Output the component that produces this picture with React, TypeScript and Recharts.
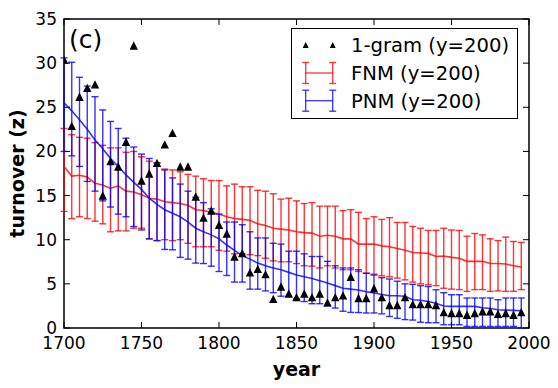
import React from 'react';
import {
  ComposedChart, Line, Scatter, ErrorBar, XAxis, YAxis, Legend, Label, ReferenceArea,
} from 'recharts';

const YEARS = [
  1700, 1705, 1710, 1715, 1720, 1725, 1730, 1735, 1740, 1745,
  1750, 1755, 1760, 1765, 1770, 1775, 1780, 1785, 1790, 1795,
  1800, 1805, 1810, 1815, 1820, 1825, 1830, 1835, 1840, 1845,
  1850, 1855, 1860, 1865, 1870, 1875, 1880, 1885, 1890, 1895,
  1900, 1905, 1910, 1915, 1920, 1925, 1930, 1935, 1940, 1945,
  1950, 1955, 1960, 1965, 1970, 1975, 1980, 1985, 1990, 1995,
];

// 1-gram (y=200) turnover
const GRAM = [
  30.4, 22.9, 26.2, 27.2, 27.6, 15.0, 18.9, 18.3, 21.1, 32.0,
  16.7, 17.5, 18.7, 20.8, 22.1, 18.3, 18.3, 14.9, 12.5, 13.3,
  11.7, 10.7, 8.1, 8.5, 6.3, 6.7, 6.1, 3.3, 4.7, 3.9,
  3.5, 3.9, 3.5, 3.9, 2.9, 3.5, 3.7, 5.8, 3.4, 3.4,
  4.5, 3.5, 2.6, 2.6, 3.5, 2.7, 2.7, 2.7, 2.6, 1.8,
  1.7, 1.7, 1.5, 1.7, 1.9, 1.9, 1.6, 1.7, 1.5, 1.8,
];

// FNM (y=200): mean and error bar ends
const FNM_MEAN = [
  18.3, 17.2, 17.3, 17.1, 16.4, 16.2, 15.8, 16.1, 15.5, 15.4,
  15.1, 14.7, 14.6, 14.3, 14.2, 14.1, 13.9, 13.4, 13.3, 13.1,
  12.9, 12.6, 12.4, 12.3, 12.2, 11.8, 11.6, 11.3, 11.2, 11.1,
  10.9, 10.8, 10.75, 10.4, 10.5, 10.4, 10.1, 10.1, 9.5, 9.5,
  9.5, 9.3, 9.2, 9.0, 8.8, 8.55, 8.5, 8.45, 8.1, 8.15,
  8.0, 7.9, 7.55, 7.55, 7.55, 7.3, 7.3, 7.25, 7.05, 6.9,
];
const FNM_HIGH = [
  22.6, 21.9, 21.6, 21.5, 21.0, 20.7, 20.4, 20.4, 19.9, 20.0,
  19.4, 18.9, 18.7, 18.0, 17.9, 17.7, 17.4, 17.2, 16.9, 16.7,
  16.7, 16.1, 16.3, 16.0, 16.0, 15.6, 15.5, 15.2, 14.6, 14.7,
  14.4, 14.1, 14.2, 13.8, 13.8, 13.8, 13.3, 13.4, 13.1, 12.4,
  12.6, 12.3, 12.5, 11.95, 11.95, 11.5, 11.3, 11.05, 11.05, 11.3,
  11.1, 11.05, 10.4, 10.7, 10.55, 10.1, 9.9, 10.3, 9.8, 9.7,
];
const FNM_LOW = [
  13.2, 12.4, 12.6, 12.4, 12.1, 11.8, 10.9, 11.0, 11.0, 11.3,
  11.3, 10.1, 9.9, 10.0, 9.9, 10.0, 9.6, 9.2, 9.2, 9.2,
  8.8, 8.7, 8.4, 8.4, 8.3, 8.2, 7.9, 7.6, 7.5, 7.5,
  7.3, 7.05, 7.0, 6.8, 7.05, 6.8, 6.6, 6.6, 6.4, 6.2,
  6.1, 5.9, 5.8, 5.65, 5.45, 5.2, 5.0, 4.9, 4.8, 4.5,
  4.4, 4.35, 4.15, 4.35, 4.35, 4.15, 4.2, 4.15, 4.15, 4.35,
];

// PNM (y=200): mean and error bar ends
const PNM_MEAN = [
  25.5, 24.6, 23.6, 22.5, 21.3, 20.3, 19.2, 18.3, 17.35, 16.5,
  15.7, 14.7, 14.0, 13.4, 13.0, 12.6, 12.0, 11.3, 10.9, 10.55,
  10.1, 9.4, 8.8, 8.2, 7.8, 7.35, 7.05, 6.8, 6.6, 6.3,
  6.0, 5.8, 5.6, 5.35, 5.1, 4.8, 4.5, 4.4, 4.3, 4.1,
  3.96, 3.8, 3.65, 3.65, 3.6, 3.2, 3.15, 3.0, 2.8, 2.5,
  2.45, 2.45, 2.45, 2.45, 2.3, 2.2, 2.07, 2.03, 2.0, 1.95,
];
const PNM_HIGH = [
  30.6, 30.1, 28.4, 27.4, 26.2, 24.7, 23.4, 22.6, 21.5, 20.5,
  19.7, 19.2, 18.7, 17.9, 17.0, 16.3, 15.5, 14.8, 14.2, 13.5,
  12.9, 12.0, 12.0, 11.7, 10.9, 10.2, 10.2, 9.6, 9.5, 8.7,
  8.7, 8.4, 8.1, 8.1, 7.55, 7.05, 6.8, 6.8, 6.6, 6.2,
  6.0, 5.7, 5.55, 5.3, 5.0, 4.95, 4.8, 4.7, 4.33, 4.0,
  3.77, 3.77, 3.4, 3.4, 3.4, 3.4, 3.2, 3.4, 3.4, 3.4,
];
const PNM_LOW = [
  20.0, 19.5, 18.3, 16.6, 15.5, 14.4, 13.7, 12.9, 12.6, 11.5,
  11.1, 10.1, 9.9, 8.9, 8.86, 8.0, 7.8, 7.35, 7.3, 7.0,
  6.4, 5.95, 5.2, 5.2, 4.4, 4.4, 4.2, 4.0, 3.6, 3.6,
  3.3, 3.0, 2.75, 2.75, 2.5, 2.26, 1.9, 1.77, 1.75, 1.7,
  1.7, 1.6, 1.3, 1.1, 0.95, 0.9, 0.65, 0.6, 0.6, 0.37,
  0.37, 0.37, 0.18, 0.18, 0.18, 0.18, 0.18, 0.18, 0.18, 0.0,
];

const X_TICKS = [1700, 1750, 1800, 1850, 1900, 1950, 2000];
const Y_TICKS = [0, 5, 10, 15, 20, 25, 30, 35];

const data = YEARS.map((year, i) => ({
  year,
  gram: GRAM[i],
  fnm: FNM_MEAN[i],
  fnmErr: [FNM_MEAN[i] - FNM_LOW[i], FNM_HIGH[i] - FNM_MEAN[i]],
  pnm: PNM_MEAN[i],
  pnmErr: [PNM_MEAN[i] - PNM_LOW[i], PNM_HIGH[i] - PNM_MEAN[i]],
}));

const FONT = '"DejaVu Sans", sans-serif';
const RED = 'rgba(255,0,0,0.8)';
const BLUE = 'rgba(0,0,255,0.8)';

const W = 558;
const H = 388;
const PLOT_TOP = 19;
const PLOT_BOTTOM = 328;
const PLOT_LEFT = 64;
const PLOT_RIGHT = 529;

const XTick = ({ x, payload }: any) => (
  <g>
    <line x1={x} x2={x} y1={PLOT_BOTTOM} y2={PLOT_BOTTOM - 6} stroke="#000" />
    <line x1={x} x2={x} y1={PLOT_TOP} y2={PLOT_TOP + 6} stroke="#000" />
    <text x={x} y={PLOT_BOTTOM + 21} textAnchor="middle" fontSize={17} fontFamily={FONT} fill="#000">
      {payload.value}
    </text>
  </g>
);

const YTick = ({ y, payload }: any) => (
  <g>
    <line x1={PLOT_LEFT} x2={PLOT_LEFT + 6} y1={y} y2={y} stroke="#000" />
    <line x1={PLOT_RIGHT} x2={PLOT_RIGHT - 6} y1={y} y2={y} stroke="#000" />
    <text x={PLOT_LEFT - 7} y={y + 6} textAnchor="end" fontSize={17} fontFamily={FONT} fill="#000">
      {payload.value}
    </text>
  </g>
);

const Triangle = ({ cx, cy, r = 4.2 }: any) => (
  <polygon points={`${cx},${cy - r} ${cx - r},${cy + r} ${cx + r},${cy + r}`} fill="#000" />
);

const YTitle = ({ viewBox }: any) => {
  const cy = viewBox ? viewBox.y + viewBox.height / 2 : (PLOT_TOP + PLOT_BOTTOM) / 2;
  return (
    <text
      x={24}
      y={cy}
      transform={`rotate(-90, 24, ${cy})`}
      textAnchor="middle"
      fontSize={19}
      fontWeight="bold"
      fontFamily={FONT}
      fill="#000"
    >
      turnover (z)
    </text>
  );
};

const PanelTag = ({ viewBox }: any) => (
  <text x={viewBox.x + 5} y={viewBox.y + 29} fontSize={25} fontFamily={FONT} fill="#000">
    (c)
  </text>
);

const ErrGlyph = ({ y, color }: { y: number; color: string }) => {
  const xs = [14.7, 41.7];
  return (
    <g stroke={color} strokeWidth={1.3}>
      <line x1={xs[0]} x2={xs[1]} y1={y} y2={y} />
      {xs.map((x) => (
        <g key={x}>
          <line x1={x} x2={x} y1={y - 10.5} y2={y + 10.5} />
          <line x1={x - 3.5} x2={x + 3.5} y1={y - 10.5} y2={y - 10.5} />
          <line x1={x - 3.5} x2={x + 3.5} y1={y + 10.5} y2={y + 10.5} />
        </g>
      ))}
    </g>
  );
};

const LegendBox = () => (
  <svg width={228} height={92} style={{ display: 'block' }}>
    <rect x={0.5} y={0.5} width={226} height={90} fill="#fff" stroke="#000" strokeWidth={1} />
    <Triangle cx={14.7} cy={17} r={3} />
    <Triangle cx={41.7} cy={17} r={3} />
    <ErrGlyph y={45} color={RED} />
    <ErrGlyph y={72.7} color={BLUE} />
    <g fontSize={19.6} fontFamily={FONT} fill="#000">
      <text x={60} y={24}>1-gram (y=200)</text>
      <text x={60} y={52}>FNM (y=200)</text>
      <text x={60} y={79.5}>PNM (y=200)</text>
    </g>
  </svg>
);

export default function App() {
  return (
    <div style={{ position: 'absolute', left: 0, top: 0, width: W, height: H, background: '#fff' }}>
      <ComposedChart
        width={W}
        height={H}
        data={data}
        margin={{ top: PLOT_TOP, right: W - PLOT_RIGHT, bottom: 0, left: 0 }}
      >
        <XAxis
          dataKey="year"
          type="number"
          domain={[1700, 2000]}
          ticks={X_TICKS}
          interval={0}
          allowDataOverflow
          height={H - PLOT_BOTTOM}
          axisLine={false}
          tickLine={false}
          tickSize={0}
          tick={<XTick />}
        >
          <Label value="year" position="insideBottom" offset={12} fontSize={19} fontWeight="bold" fontFamily={FONT} fill="#000" />
        </XAxis>
        <YAxis
          type="number"
          domain={[0, 35]}
          ticks={Y_TICKS}
          interval={0}
          allowDataOverflow
          width={PLOT_LEFT}
          axisLine={false}
          tickLine={false}
          tickSize={0}
          tick={<YTick />}
        >
          <Label content={<YTitle />} />
        </YAxis>
        <Legend
          content={<LegendBox />}
          layout="horizontal"
          verticalAlign="middle"
          align="center"
          wrapperStyle={{ left: 291, top: 28, width: 228, height: 92 }}
        />
        <Line
          dataKey="fnm"
          stroke={RED}
          strokeWidth={1.6}
          dot={false}
          activeDot={false}
          isAnimationActive={false}
        >
          <ErrorBar dataKey="fnmErr" direction="y" width={3.5} stroke={RED} strokeWidth={1.4} />
        </Line>
        <Line
          dataKey="pnm"
          stroke={BLUE}
          strokeWidth={1.6}
          dot={false}
          activeDot={false}
          isAnimationActive={false}
        >
          <ErrorBar dataKey="pnmErr" direction="y" width={3.5} stroke={BLUE} strokeWidth={1.4} />
        </Line>
        <Scatter dataKey="gram" fill="#000" shape={<Triangle />} isAnimationActive={false} />
        <ReferenceArea
          x1={1700}
          x2={2000}
          y1={0}
          y2={35}
          fill="none"
          fillOpacity={0}
          stroke="#000"
          strokeWidth={1.5}
          strokeOpacity={1}
          label={<PanelTag />}
        />
      </ComposedChart>
    </div>
  );
}
